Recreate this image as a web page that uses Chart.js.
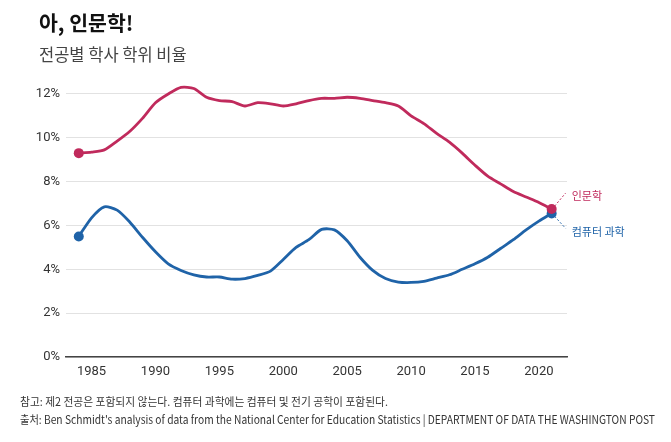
<!DOCTYPE html>
<html><head><meta charset="utf-8">
<script src="https://cdn.jsdelivr.net/npm/chart.js@4"></script>
<style>
html,body{margin:0;padding:0;background:#fff;width:671px;height:442px;overflow:hidden;}
#wrap{position:absolute;left:0;top:0;width:671px;height:442px;}
.t{position:absolute;white-space:nowrap;font-family:"Noto Sans CJK KR","Noto Sans",sans-serif;}
#title{left:39px;top:7px;font-size:20.5px;font-weight:700;color:#111;}
#sub{left:39px;top:42px;font-size:16.5px;color:#444;}
.foot{left:20px;font-size:11.5px;color:#333;transform-origin:0 0;}
#f1{top:393px;}
#f2{top:411px;}
</style></head>
<body>
<div id="wrap"><canvas id="c" width="671" height="442"></canvas></div>
<div class="t" id="title">아, 인문학!</div>
<div class="t" id="sub">전공별 학사 학위 비율</div>
<div class="t foot" id="f1">참고: 제2 전공은 포함되지 않는다. 컴퓨터 과학에는 컴퓨터 및 전기 공학이 포함된다.</div>
<div class="t foot" id="f2">출처: Ben Schmidt's analysis of data from the National Center for Education Statistics | DEPARTMENT OF DATA THE WASHINGTON POST</div>
<script>
const years = [1984,1985,1986,1987,1988,1989,1990,1991,1992,1993,1994,1995,1996,1997,1998,1999,2000,2001,2002,2003,2004,2005,2006,2007,2008,2009,2010,2011,2012,2013,2014,2015,2016,2017,2018,2019,2020,2021];
const humanities = [9.3,9.35,9.45,9.85,10.3,10.9,11.6,12.0,12.3,12.25,11.85,11.7,11.65,11.45,11.6,11.55,11.45,11.55,11.7,11.8,11.8,11.85,11.8,11.7,11.6,11.45,11.0,10.65,10.2,9.8,9.3,8.75,8.25,7.9,7.55,7.3,7.05,6.75];
const computerScience = [5.5,6.35,6.85,6.7,6.15,5.45,4.8,4.25,3.95,3.75,3.65,3.65,3.55,3.58,3.72,3.92,4.45,5.0,5.35,5.82,5.8,5.3,4.55,3.95,3.58,3.42,3.4,3.45,3.6,3.75,4.0,4.25,4.55,4.95,5.35,5.8,6.2,6.55];
const seriesNames = ["인문학","컴퓨터 과학"];
const yTicks = [0,2,4,6,8,10,12];
const xTicks = [1985,1990,1995,2000,2005,2010,2015,2020];

// condense footer lines to match reference widths
(function(){
  const f2 = document.getElementById('f2'), f1 = document.getElementById('f1');
  const s1 = 368 / f1.getBoundingClientRect().width;
  const s2 = 635 / f2.getBoundingClientRect().width;
  f1.style.transform = 'scaleX(' + s1 + ')';
  f2.style.transform = 'scaleX(' + s2 + ')';
})();

const PINK = '#c02a5c', BLUE = '#1f63a8';
const n = years.length;
const radii = years.map((y,i)=> (i===0||i===n-1)?5:0);

const endLabels = {
  id:'endLabels',
  afterDatasetsDraw(chart){
    const ctx = chart.ctx, xs = chart.scales.x, ys = chart.scales.y;
    const lx = xs.getPixelForValue(years[n-1]);
    const specs = [
      {v:humanities[n-1], c:PINK, t:seriesNames[0], dy:-16, ty:-13},
      {v:computerScience[n-1], c:BLUE, t:seriesNames[1], dy:15, ty:18}
    ];
    ctx.save();
    specs.forEach(s=>{
      const py = ys.getPixelForValue(s.v);
      ctx.strokeStyle = s.c; ctx.lineWidth = 1; ctx.setLineDash([2,2]);
      ctx.beginPath(); ctx.moveTo(lx+3, py + (s.dy<0?-3:3)); ctx.lineTo(lx+14, py+s.dy); ctx.stroke();
      ctx.setLineDash([]);
      ctx.fillStyle = s.c; ctx.font = '11px "Noto Sans CJK KR", sans-serif';
      ctx.textAlign='left'; ctx.textBaseline='middle';
      ctx.fillText(s.t, lx+20, py+s.ty);
    });
    ctx.restore();
  }
};

new Chart(document.getElementById('c'), {
  type:'line',
  data:{
    labels: years,
    datasets:[
      {label:seriesNames[0], data:years.map((y,i)=>({x:y,y:humanities[i]})), borderColor:PINK, backgroundColor:PINK, borderWidth:2.8, pointRadius:radii, pointHoverRadius:radii, pointBorderWidth:0, tension:0.25},
      {label:seriesNames[1], data:years.map((y,i)=>({x:y,y:computerScience[i]})), borderColor:BLUE, backgroundColor:BLUE, borderWidth:2.8, pointRadius:radii, pointHoverRadius:radii, pointBorderWidth:0, tension:0.25}
    ]
  },
  options:{
    responsive:false, animation:false, devicePixelRatio:1,
    layout:{padding:{top:83,right:104,bottom:0,left:0}},
    plugins:{legend:{display:false},tooltip:{enabled:false}},
    scales:{
      x:{type:'linear', min:1983, max:2022.2,
        afterBuildTicks(s){ s.ticks = xTicks.map(v=>({value:v})); },
        afterFit(s){ s.height = 85; },
        grid:{display:false, drawTicks:false},
        border:{display:true, color:'#444', width:1.5},
        ticks:{padding:7, color:'#333', font:{family:'Roboto', size:13}, callback:v=>String(v)}
      },
      y:{min:0, max:12.5,
        afterBuildTicks(s){ s.ticks = yTicks.map(v=>({value:v})); },
        afterFit(s){ s.width = 66; },
        grid:{drawTicks:false, color:'#e2e2e2', lineWidth:1},
        border:{display:false},
        ticks:{padding:6, color:'#333', font:{family:'Roboto', size:13}, callback:v=>v+'%'}
      }
    }
  },
  plugins:[endLabels]
});
</script>
</body></html>
